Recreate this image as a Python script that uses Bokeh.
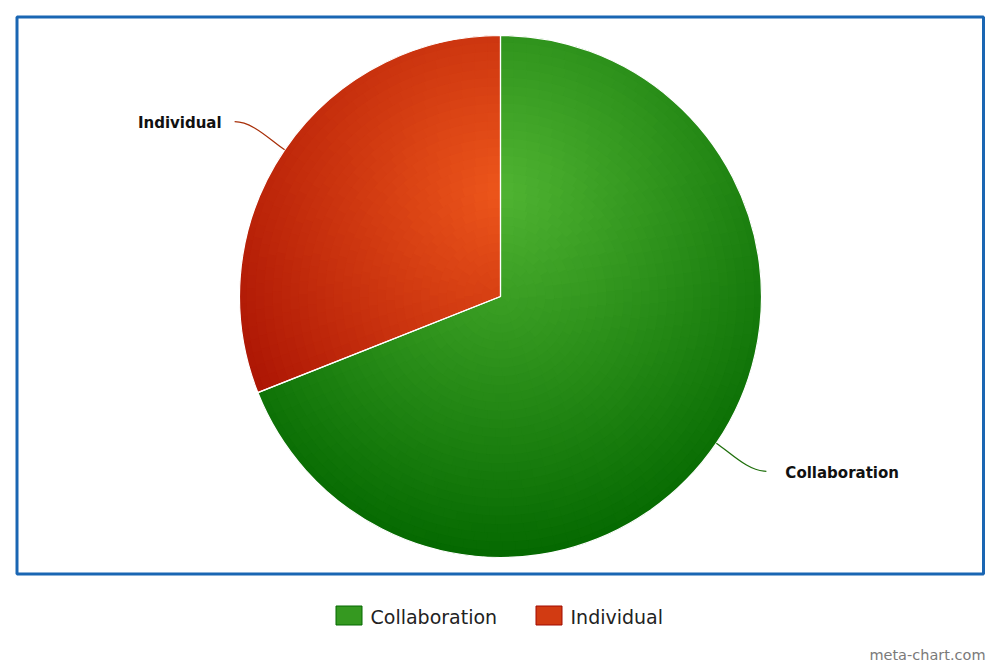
import math
from bokeh.plotting import figure
from bokeh.models import Range1d, ColumnDataSource
from bokeh.core.properties import value
from bokeh.embed import file_html
from bokeh.resources import INLINE

# ---- data ----
categories = ["Collaboration", "Individual"]
values = [69, 31]
base_colors = ["#50B432", "#ED561B"]
dark_colors = ["#046800", "#A10A00"]
legend_x = [335, 535]
credit = "meta-chart.com"

W, H = 1000, 667


def Y(py):  # picture y -> data y
    return H - py


def hex2rgb(h):
    h = h.lstrip("#")
    return tuple(int(h[i:i + 2], 16) for i in (0, 2, 4))


def lerp(c1, c2, t):
    a, b = hex2rgb(c1), hex2rgb(c2)
    return "#%02x%02x%02x" % tuple(int(round(a[i] + (b[i] - a[i]) * t)) for i in range(3))


p = figure(width=W, height=H, output_backend="svg", toolbar_location=None,
           x_range=Range1d(0, W), y_range=Range1d(0, H),
           min_border=0, outline_line_color=None, background_fill_color="white")
p.axis.visible = False
p.grid.visible = False

# frame
p.rect(x=[(16.5 + 983) / 2], y=[Y((16.5 + 573.5) / 2)], width=[983 - 16.5], height=[573.5 - 16.5],
       fill_color=None, line_color="#1a66b3", line_width=3)

# pie geometry
CX, CY = 500, 296
R = 261
GX, GY = CX, CY - R + 0.3 * 2 * R
GR = 0.7 * 2 * R

total = float(sum(values))
start = math.pi / 2
slices = []
for cat, v in zip(categories, values):
    span = v / total * 2 * math.pi
    slices.append((start - span, start))
    start -= span

# gradient-filled cells (overlapping slightly, drawn outer to inner, to hide seams)
xs, ys, ir, orr, sa, ea, cols = [], [], [], [], [], [], []
NR = 30
for i in reversed(range(NR)):
    r0, r1 = R * i / NR, R * (i + 1) / NR
    rm = (r0 + r1) / 2
    r1e = min(R, r1 + 1.5)
    for k, (a0, a1) in enumerate(slices):
        na = max(1, int(math.ceil((a1 - a0) * rm / 13.0)))
        ov = max(math.radians(1.0), 2.5 / max(rm, 1.0))
        for j in range(na):
            b0 = a0 + (a1 - a0) * j / na
            b1 = a0 + (a1 - a0) * (j + 1) / na
            bm = (b0 + b1) / 2
            b1e = min(a1, b1 + ov)
            px = CX + rm * math.cos(bm)
            py = CY - rm * math.sin(bm)
            t = min(1.0, math.hypot(px - GX, py - GY) / GR)
            xs.append(CX); ys.append(Y(CY))
            ir.append(r0); orr.append(r1e)
            sa.append(b0); ea.append(b1e)
            cols.append(lerp(base_colors[k], dark_colors[k], t))

src = ColumnDataSource(dict(x=xs, y=ys, ir=ir, orr=orr, sa=sa, ea=ea, c=cols))
p.annular_wedge(x="x", y="y", inner_radius="ir", outer_radius="orr", start_angle="sa", end_angle="ea",
                fill_color="c", line_color=None, source=src)

# white slice borders
p.wedge(x=[CX] * len(slices), y=[Y(CY)] * len(slices), radius=R,
        start_angle=[s[0] for s in slices], end_angle=[s[1] for s in slices],
        fill_color=None, line_color="white", line_width=1.2)

# data labels with connectors
conn_colors = ["#1f6f0c", "#a8300a"]
for k, (a0, a1) in enumerate(slices):
    mid = (a0 + a1) / 2
    ux, uy = math.cos(mid), -math.sin(mid)
    sign = 1 if ux >= 0 else -1
    ex0, ey0 = CX + R * ux, CY + R * uy
    ex1 = ex0 + sign * 50
    ey1 = CY + (R + 50) * uy
    p.bezier(x0=[ex0], y0=[Y(ey0)], x1=[ex1], y1=[Y(ey1)],
             cx0=[ex0 + 18 * ux], cy0=[Y(ey0 + 18 * uy)], cx1=[ex1 - sign * 18], cy1=[Y(ey1)],
             line_color=conn_colors[k], line_width=1.3)
    tx = ex1 + (19 if sign > 0 else -13)
    p.text(x=[tx], y=[Y(ey1 + 1.5)], text=[categories[k]], text_font=value("DejaVu Sans"),
           text_font_style="bold", text_font_size="15px", text_color="#111111",
           text_align="left" if sign > 0 else "right", text_baseline="middle")

# legend
for k, cat in enumerate(categories):
    lx = legend_x[k]
    p.rect(x=[lx + 13.5], y=[Y(615)], width=[26], height=[19],
           fill_color=lerp(base_colors[k], dark_colors[k], 0.35), line_color=dark_colors[k], line_width=1)
    p.text(x=[lx + 35], y=[Y(616)], text=[cat], text_font=value("DejaVu Sans"),
           text_font_size="19px", text_color="#222222", text_align="left", text_baseline="middle")

# credit
p.text(x=[985], y=[Y(654)], text=[credit], text_font=value("DejaVu Sans"),
       text_font_size="14.5px", text_color="#7a7a7a", text_align="right", text_baseline="middle")

open("out.html", "w").write(file_html(p, INLINE))
